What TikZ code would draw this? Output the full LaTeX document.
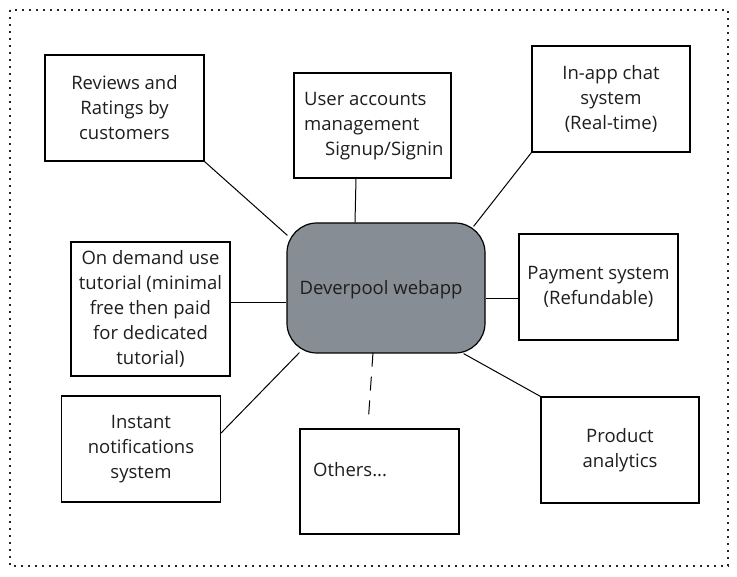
\documentclass[tikz,border=0pt]{standalone}
\usepackage{fontspec}
\setmainfont{Open Sans}
\definecolor{hubfill}{RGB}{135,141,148}
\definecolor{txt}{RGB}{30,30,30}
\begin{document}
\begin{tikzpicture}[x=1pt,y=-1pt,
  box/.style={draw=black,line width=1.2pt,fill=white,rectangle,align=center,inner sep=0pt,
    font=\fontsize{18.5}{25}\selectfont,text=txt},
  lbl/.style={inner sep=0pt,font=\fontsize{18.5}{25}\selectfont,text=txt},
  link/.style={draw=black,line width=1pt},
  dlink/.style={draw=black,line width=1pt,dash pattern=on 14pt off 10pt}]
\useasboundingbox (0,0) rectangle (737,577);
\draw[line width=1.6pt,dash pattern=on 1.6pt off 5.4pt,black!85] (10,10) rectangle (728,566);
% hub
\node[box,fill=hubfill,rounded corners=30pt,minimum width=198pt,minimum height=130pt] (c) at (386,288) {};
\node[lbl] (ctxt) at (381,290) {Deverpool webapp};
% satellites
\node[box,minimum width=159pt,minimum height=106pt] (rev) at (124.5,108) {Reviews and\\Ratings by\\customers};
\node[box,minimum width=157pt,minimum height=105pt] (user) at (372.5,125.5) {};
\node[lbl,anchor=west,align=left] (usertxt) at (304,126) {User accounts\\management\\\hspace*{21pt}Signup/Signin};
\node[box,minimum width=158pt,minimum height=106pt] (chat) at (611,99) {In-app chat\\system\\(Real-time)};
\node[box,minimum width=159pt,minimum height=134pt] (tut) at (150.5,309) {On demand use\\tutorial (minimal\\free then paid\\for dedicated\\tutorial)};
\node[box,minimum width=159pt,minimum height=106pt] (pay) at (598.5,287) {Payment system\\(Refundable)};
\node[box,minimum width=159pt,minimum height=106pt] (inst) at (141,449) {Instant\\notifications\\system};
\node[box,minimum width=159pt,minimum height=105pt] (oth) at (379.5,481.5) {};
\node[lbl,anchor=west] (othtxt) at (313,470) {Others...};
\node[box,minimum width=158pt,minimum height=106pt] (prod) at (620,450) {Product\\analytics};
\coordinate (othtop) at ([xshift=-11pt,yshift=11pt]oth.north);
% connectors
\draw[link] (rev.south east) -- ([xshift=1pt,yshift=-13pt]c.north west);
\draw[link] ([xshift=-16.5pt]user.south) -- ([xshift=-31pt]c.north);
\draw[link] (chat.south west) -- ([xshift=-12pt,yshift=-4pt]c.north east);
\draw[link] ([yshift=6pt]tut.east) -- ([yshift=-15pt]c.west);
\draw[link] ([yshift=-12pt]pay.west) -- ([yshift=-11pt]c.east);
\draw[link] ([yshift=16pt]inst.east) -- ([xshift=13pt,yshift=1pt]c.south west);
\draw[dlink] ([xshift=-13pt,yshift=1pt]c.south) -- (othtop);
\draw[link] (prod.north west) -- ([xshift=-22pt]c.south east);
\end{tikzpicture}
\end{document}
